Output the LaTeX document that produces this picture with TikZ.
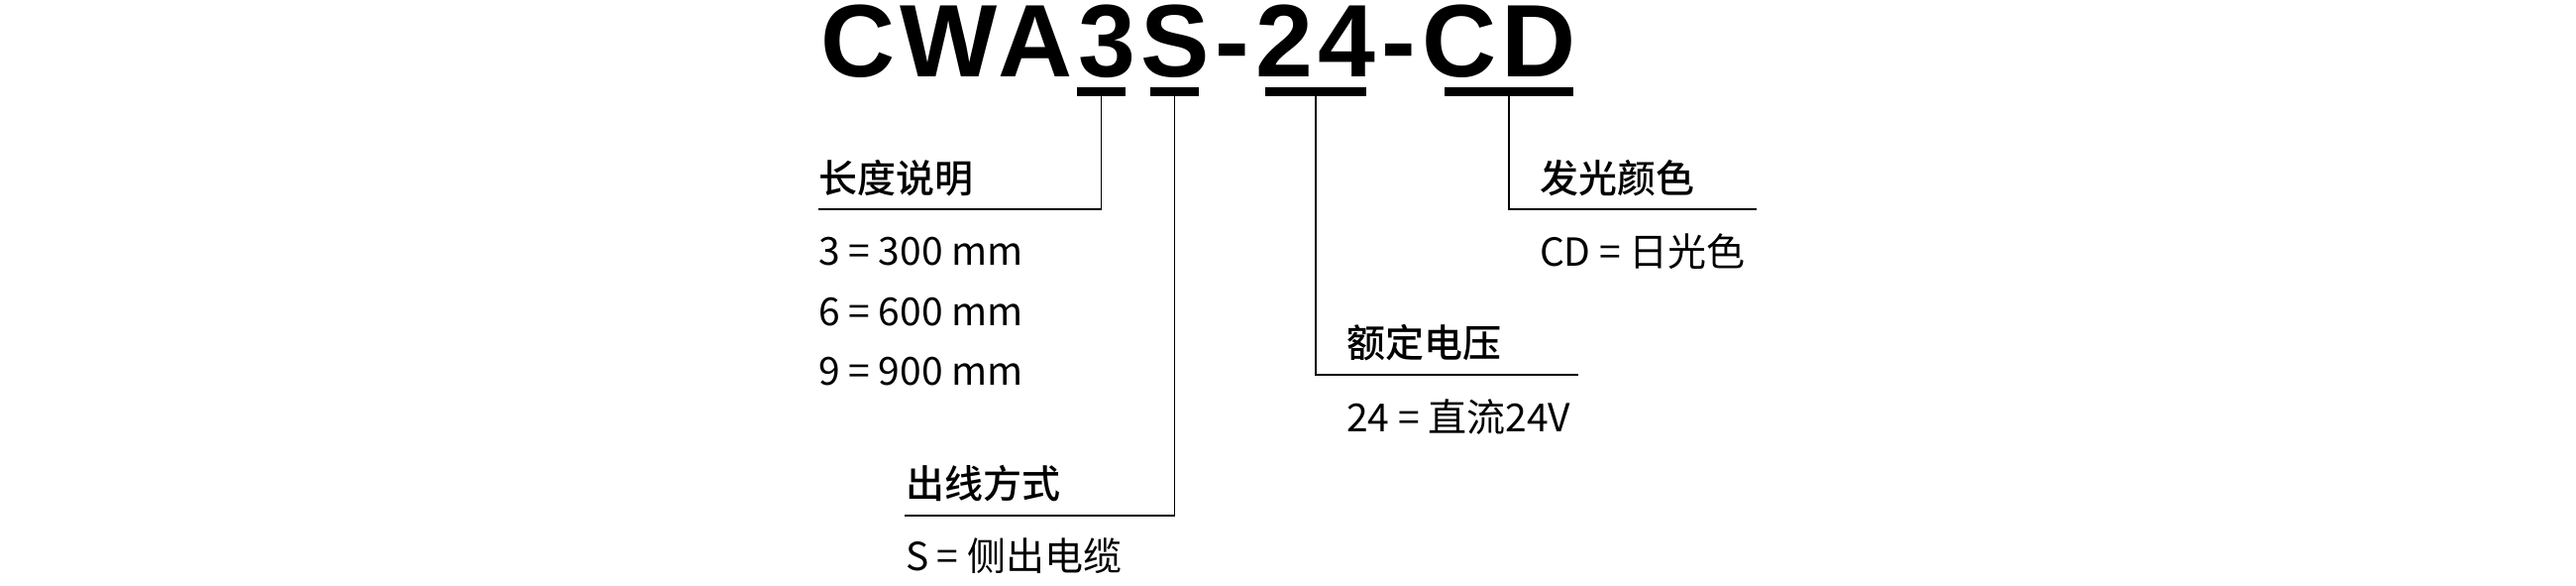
\documentclass[tikz,border=0pt]{standalone}
\usepackage{fontspec}
\setmainfont{Liberation Sans}
\newfontfamily\cjk{Noto Sans CJK SC}
\newfontfamily\cjkhead{Noto Sans CJK SC Medium}
\newfontfamily\titlefont[LetterSpace=5.6]{Liberation Sans}
\begin{document}
\begin{tikzpicture}[x=1pt,y=-1pt,
  every node/.style={inner sep=0pt,outer sep=0pt},
  head/.style={anchor=base west,font=\cjkhead\fontsize{39}{39}\selectfont},
  val/.style={anchor=base west,font=\cjk\fontsize{39}{39}\selectfont},
  bar/.style={fill=black,minimum height=9pt,anchor=north west},
  lead/.style={line width=1.8pt,black}]
\useasboundingbox[fill=white] (0,0) rectangle (2600,590);
\node[anchor=base west,font=\titlefont\bfseries\fontsize{104}{104}\selectfont] (title) at (828,77) {CWA3S-24-CD};
% underline bars
\node[bar,minimum width=49pt] (b3) at (1087,88) {};
\node[bar,minimum width=49pt] (bS) at (1161,88) {};
\node[bar,minimum width=102pt] (b24) at (1277,88) {};
\node[bar,minimum width=130pt] (bCD) at (1458,88) {};
% headings
\node[head] (h1) at (826,194) {长度说明};
\node[head] (h2) at (914,502) {出线方式};
\node[head] (h3) at (1359,360) {额定电压};
\node[head] (h4) at (1554,194) {发光颜色};
% values
\node[val] (v1a) at (826,267) {3 = 300 mm};
\node[val] (v1b) at (826,328) {6 = 600 mm};
\node[val] (v1c) at (826,388) {9 = 900 mm};
\node[val] (v2) at (914,575) {S = 侧出电缆};
\node[val] (v3) at (1359,435) {24 = 直流24V};
\node[val] (v4) at (1554,268) {CD = 日光色};
% line ends
\coordinate (e1) at (826,211);
\coordinate (e2) at (913,520);
\coordinate (e3) at (1593,378);
\coordinate (e4) at (1773,211);
% leaders
\draw[lead] (b3.south) |- (e1);
\draw[lead] (bS.south) |- (e2);
\draw[lead] (b24.south) |- (e3);
\draw[lead] (bCD.south) |- (e4);
\end{tikzpicture}
\end{document}
